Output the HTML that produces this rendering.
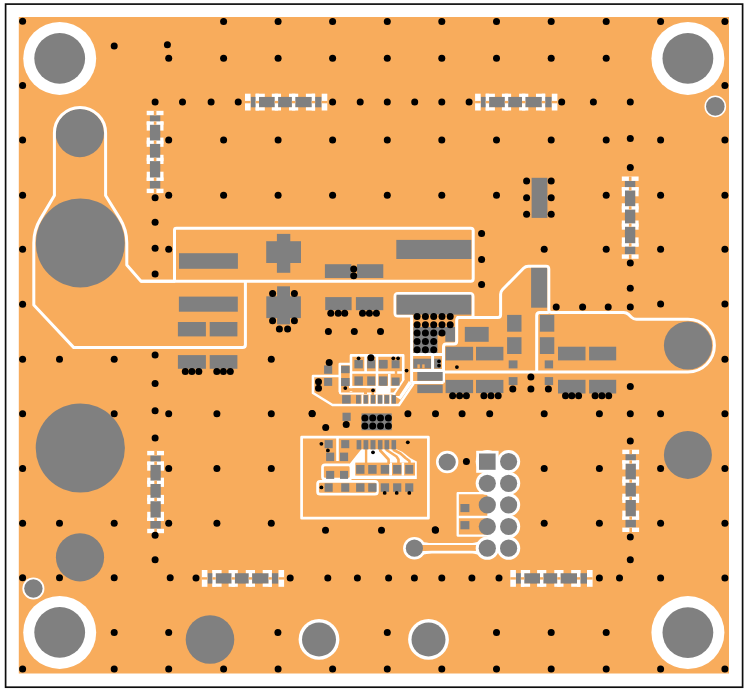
<!DOCTYPE html>
<html><head><meta charset="utf-8"><title>PCB</title>
<style>html,body{margin:0;padding:0;background:#fff;width:751px;height:693px;overflow:hidden;font-family:"Liberation Sans",sans-serif;}svg{display:block}</style>
</head><body>
<svg width="751" height="693" viewBox="0 0 751 693">
<defs><filter id="bl" x="0" y="0" width="751" height="693" filterUnits="userSpaceOnUse"><feGaussianBlur stdDeviation="0.35"/></filter></defs>
<g filter="url(#bl)">
<rect x="0" y="0" width="751" height="693" fill="#fff"/>
<rect x="18.8" y="17.0" width="710.2" height="656.5" fill="#F8AC5C"/>
<circle cx="59.7" cy="58.4" r="36.5" fill="#FFFFFF"/>
<circle cx="59.7" cy="58.4" r="25.4" fill="#808080"/>
<circle cx="687.9" cy="58.4" r="36.5" fill="#FFFFFF"/>
<circle cx="687.9" cy="58.4" r="25.4" fill="#808080"/>
<circle cx="59.7" cy="632.4" r="36.5" fill="#FFFFFF"/>
<circle cx="59.7" cy="632.4" r="25.4" fill="#808080"/>
<circle cx="687.9" cy="632.6" r="36.5" fill="#FFFFFF"/>
<circle cx="687.9" cy="632.6" r="25.4" fill="#808080"/>
<circle cx="715.3" cy="106.4" r="10.8" fill="#FFFFFF"/>
<circle cx="715.3" cy="106.4" r="9.3" fill="#808080"/>
<circle cx="33.4" cy="588.5" r="11.0" fill="#FFFFFF"/>
<circle cx="33.4" cy="588.5" r="9.2" fill="#808080"/>
<circle cx="80.3" cy="242.9" r="44.5" fill="#808080"/>
<circle cx="80.3" cy="448.0" r="44.6" fill="#808080"/>
<circle cx="80.0" cy="557.3" r="24.1" fill="#808080"/>
<circle cx="79.8" cy="133.0" r="24.2" fill="#808080"/>
<circle cx="210.0" cy="639.5" r="24.3" fill="#808080"/>
<circle cx="687.9" cy="454.9" r="24.0" fill="#808080"/>
<circle cx="319.0" cy="639.4" r="20.4" fill="#FFFFFF"/>
<circle cx="319.0" cy="639.4" r="17.0" fill="#808080"/>
<circle cx="428.5" cy="639.4" r="20.4" fill="#FFFFFF"/>
<circle cx="428.5" cy="639.4" r="17.0" fill="#808080"/>
<path d="M 175.2 281.3 L 141 281.3 L 126.8 265 L 126.8 242.9 A 46.5 46.5 0 0 0 119.8 218.37 L 105.6 195.5 L 105.6 133 A 25.6 25.6 0 0 0 54.4 133 L 54.4 195.5 L 40.34 219.12 A 46.5 46.5 0 0 0 33.8 242.9 L 33.8 305 L 73.8 347.6 L 242.5 347.6 Q 245.4 347.6 245.4 344.7 L 245.4 281.3" fill="none" stroke="#FFFFFF" stroke-width="3.0" stroke-linejoin="round"/>
<path d="M 176.4 228.2 L 470.8 228.2 Q 473.2 228.2 473.2 230.6 L 473.2 278.8 Q 473.2 281.2 470.8 281.2 L 141 281.2 M 174.5 281.2 L 174.5 230.1 Q 174.5 228.2 176.4 228.2" fill="none" stroke="#FFFFFF" stroke-width="3.0" stroke-linejoin="round"/>
<rect x="250.6" y="96.9" width="71.1" height="10.4" fill="#808080"/>
<rect x="245.0" y="93.7" width="5.6" height="16.8" fill="#FFFFFF"/>
<rect x="245.0" y="100.9" width="5.6" height="2.4" fill="#F8AC5C"/>
<rect x="255.6" y="93.7" width="9.2" height="3.2" fill="#FFFFFF"/>
<rect x="255.6" y="107.3" width="9.2" height="3.2" fill="#FFFFFF"/>
<rect x="255.6" y="93.7" width="3.4" height="16.8" fill="#FFFFFF"/>
<rect x="255.6" y="100.9" width="3.4" height="2.4" fill="#F8AC5C"/>
<rect x="271.8" y="93.7" width="9.2" height="3.2" fill="#FFFFFF"/>
<rect x="271.8" y="107.3" width="9.2" height="3.2" fill="#FFFFFF"/>
<rect x="274.7" y="93.7" width="3.4" height="16.8" fill="#FFFFFF"/>
<rect x="274.7" y="100.9" width="3.4" height="2.4" fill="#F8AC5C"/>
<rect x="289.0" y="93.7" width="9.2" height="3.2" fill="#FFFFFF"/>
<rect x="289.0" y="107.3" width="9.2" height="3.2" fill="#FFFFFF"/>
<rect x="291.9" y="93.7" width="3.4" height="16.8" fill="#FFFFFF"/>
<rect x="291.9" y="100.9" width="3.4" height="2.4" fill="#F8AC5C"/>
<rect x="305.9" y="93.7" width="9.2" height="3.2" fill="#FFFFFF"/>
<rect x="305.9" y="107.3" width="9.2" height="3.2" fill="#FFFFFF"/>
<rect x="311.7" y="93.7" width="3.4" height="16.8" fill="#FFFFFF"/>
<rect x="311.7" y="100.9" width="3.4" height="2.4" fill="#F8AC5C"/>
<rect x="321.7" y="93.7" width="5.6" height="16.8" fill="#FFFFFF"/>
<rect x="321.7" y="100.9" width="5.6" height="2.4" fill="#F8AC5C"/>
<rect x="480.7" y="96.9" width="71.1" height="10.4" fill="#808080"/>
<rect x="475.1" y="93.7" width="5.6" height="16.8" fill="#FFFFFF"/>
<rect x="475.1" y="100.9" width="5.6" height="2.4" fill="#F8AC5C"/>
<rect x="485.7" y="93.7" width="9.2" height="3.2" fill="#FFFFFF"/>
<rect x="485.7" y="107.3" width="9.2" height="3.2" fill="#FFFFFF"/>
<rect x="485.7" y="93.7" width="3.4" height="16.8" fill="#FFFFFF"/>
<rect x="485.7" y="100.9" width="3.4" height="2.4" fill="#F8AC5C"/>
<rect x="501.9" y="93.7" width="9.2" height="3.2" fill="#FFFFFF"/>
<rect x="501.9" y="107.3" width="9.2" height="3.2" fill="#FFFFFF"/>
<rect x="504.8" y="93.7" width="3.4" height="16.8" fill="#FFFFFF"/>
<rect x="504.8" y="100.9" width="3.4" height="2.4" fill="#F8AC5C"/>
<rect x="519.1" y="93.7" width="9.2" height="3.2" fill="#FFFFFF"/>
<rect x="519.1" y="107.3" width="9.2" height="3.2" fill="#FFFFFF"/>
<rect x="522.0" y="93.7" width="3.4" height="16.8" fill="#FFFFFF"/>
<rect x="522.0" y="100.9" width="3.4" height="2.4" fill="#F8AC5C"/>
<rect x="536.0" y="93.7" width="9.2" height="3.2" fill="#FFFFFF"/>
<rect x="536.0" y="107.3" width="9.2" height="3.2" fill="#FFFFFF"/>
<rect x="541.8" y="93.7" width="3.4" height="16.8" fill="#FFFFFF"/>
<rect x="541.8" y="100.9" width="3.4" height="2.4" fill="#F8AC5C"/>
<rect x="551.8" y="93.7" width="5.6" height="16.8" fill="#FFFFFF"/>
<rect x="551.8" y="100.9" width="5.6" height="2.4" fill="#F8AC5C"/>
<rect x="207.4" y="573.2" width="71.1" height="10.4" fill="#808080"/>
<rect x="201.8" y="570.0" width="5.6" height="16.8" fill="#FFFFFF"/>
<rect x="201.8" y="577.2" width="5.6" height="2.4" fill="#F8AC5C"/>
<rect x="212.4" y="570.0" width="9.2" height="3.2" fill="#FFFFFF"/>
<rect x="212.4" y="583.6" width="9.2" height="3.2" fill="#FFFFFF"/>
<rect x="212.4" y="570.0" width="3.4" height="16.8" fill="#FFFFFF"/>
<rect x="212.4" y="577.2" width="3.4" height="2.4" fill="#F8AC5C"/>
<rect x="228.6" y="570.0" width="9.2" height="3.2" fill="#FFFFFF"/>
<rect x="228.6" y="583.6" width="9.2" height="3.2" fill="#FFFFFF"/>
<rect x="231.5" y="570.0" width="3.4" height="16.8" fill="#FFFFFF"/>
<rect x="231.5" y="577.2" width="3.4" height="2.4" fill="#F8AC5C"/>
<rect x="245.8" y="570.0" width="9.2" height="3.2" fill="#FFFFFF"/>
<rect x="245.8" y="583.6" width="9.2" height="3.2" fill="#FFFFFF"/>
<rect x="248.7" y="570.0" width="3.4" height="16.8" fill="#FFFFFF"/>
<rect x="248.7" y="577.2" width="3.4" height="2.4" fill="#F8AC5C"/>
<rect x="262.7" y="570.0" width="9.2" height="3.2" fill="#FFFFFF"/>
<rect x="262.7" y="583.6" width="9.2" height="3.2" fill="#FFFFFF"/>
<rect x="268.5" y="570.0" width="3.4" height="16.8" fill="#FFFFFF"/>
<rect x="268.5" y="577.2" width="3.4" height="2.4" fill="#F8AC5C"/>
<rect x="278.5" y="570.0" width="5.6" height="16.8" fill="#FFFFFF"/>
<rect x="278.5" y="577.2" width="5.6" height="2.4" fill="#F8AC5C"/>
<rect x="515.9" y="573.2" width="71.1" height="10.4" fill="#808080"/>
<rect x="510.3" y="570.0" width="5.6" height="16.8" fill="#FFFFFF"/>
<rect x="510.3" y="577.2" width="5.6" height="2.4" fill="#F8AC5C"/>
<rect x="520.9" y="570.0" width="9.2" height="3.2" fill="#FFFFFF"/>
<rect x="520.9" y="583.6" width="9.2" height="3.2" fill="#FFFFFF"/>
<rect x="520.9" y="570.0" width="3.4" height="16.8" fill="#FFFFFF"/>
<rect x="520.9" y="577.2" width="3.4" height="2.4" fill="#F8AC5C"/>
<rect x="537.1" y="570.0" width="9.2" height="3.2" fill="#FFFFFF"/>
<rect x="537.1" y="583.6" width="9.2" height="3.2" fill="#FFFFFF"/>
<rect x="540.0" y="570.0" width="3.4" height="16.8" fill="#FFFFFF"/>
<rect x="540.0" y="577.2" width="3.4" height="2.4" fill="#F8AC5C"/>
<rect x="554.3" y="570.0" width="9.2" height="3.2" fill="#FFFFFF"/>
<rect x="554.3" y="583.6" width="9.2" height="3.2" fill="#FFFFFF"/>
<rect x="557.2" y="570.0" width="3.4" height="16.8" fill="#FFFFFF"/>
<rect x="557.2" y="577.2" width="3.4" height="2.4" fill="#F8AC5C"/>
<rect x="571.2" y="570.0" width="9.2" height="3.2" fill="#FFFFFF"/>
<rect x="571.2" y="583.6" width="9.2" height="3.2" fill="#FFFFFF"/>
<rect x="577.0" y="570.0" width="3.4" height="16.8" fill="#FFFFFF"/>
<rect x="577.0" y="577.2" width="3.4" height="2.4" fill="#F8AC5C"/>
<rect x="587.0" y="570.0" width="5.6" height="16.8" fill="#FFFFFF"/>
<rect x="587.0" y="577.2" width="5.6" height="2.4" fill="#F8AC5C"/>
<rect x="149.9" y="115.2" width="10.4" height="73.5" fill="#808080"/>
<rect x="146.7" y="110.8" width="16.8" height="4.4" fill="#FFFFFF"/>
<rect x="153.8" y="110.8" width="2.6" height="4.4" fill="#F8AC5C"/>
<rect x="146.7" y="121.4" width="3.2" height="9.2" fill="#FFFFFF"/>
<rect x="160.3" y="121.4" width="3.2" height="9.2" fill="#FFFFFF"/>
<rect x="146.7" y="121.4" width="16.8" height="3.4" fill="#FFFFFF"/>
<rect x="153.8" y="121.4" width="2.6" height="3.4" fill="#F8AC5C"/>
<rect x="146.7" y="137.6" width="3.2" height="9.2" fill="#FFFFFF"/>
<rect x="160.3" y="137.6" width="3.2" height="9.2" fill="#FFFFFF"/>
<rect x="146.7" y="140.5" width="16.8" height="3.4" fill="#FFFFFF"/>
<rect x="153.8" y="140.5" width="2.6" height="3.4" fill="#F8AC5C"/>
<rect x="146.7" y="154.8" width="3.2" height="9.2" fill="#FFFFFF"/>
<rect x="160.3" y="154.8" width="3.2" height="9.2" fill="#FFFFFF"/>
<rect x="146.7" y="157.7" width="16.8" height="3.4" fill="#FFFFFF"/>
<rect x="153.8" y="157.7" width="2.6" height="3.4" fill="#F8AC5C"/>
<rect x="146.7" y="171.7" width="3.2" height="9.2" fill="#FFFFFF"/>
<rect x="160.3" y="171.7" width="3.2" height="9.2" fill="#FFFFFF"/>
<rect x="146.7" y="177.5" width="16.8" height="3.4" fill="#FFFFFF"/>
<rect x="153.8" y="177.5" width="2.6" height="3.4" fill="#F8AC5C"/>
<rect x="146.7" y="188.7" width="16.8" height="4.4" fill="#FFFFFF"/>
<rect x="153.8" y="188.7" width="2.6" height="4.4" fill="#F8AC5C"/>
<rect x="624.9" y="180.9" width="10.4" height="73.5" fill="#808080"/>
<rect x="621.8" y="176.5" width="16.8" height="4.4" fill="#FFFFFF"/>
<rect x="628.9" y="176.5" width="2.6" height="4.4" fill="#F8AC5C"/>
<rect x="621.8" y="187.1" width="3.2" height="9.2" fill="#FFFFFF"/>
<rect x="635.4" y="187.1" width="3.2" height="9.2" fill="#FFFFFF"/>
<rect x="621.8" y="187.1" width="16.8" height="3.4" fill="#FFFFFF"/>
<rect x="628.9" y="187.1" width="2.6" height="3.4" fill="#F8AC5C"/>
<rect x="621.8" y="203.3" width="3.2" height="9.2" fill="#FFFFFF"/>
<rect x="635.4" y="203.3" width="3.2" height="9.2" fill="#FFFFFF"/>
<rect x="621.8" y="206.2" width="16.8" height="3.4" fill="#FFFFFF"/>
<rect x="628.9" y="206.2" width="2.6" height="3.4" fill="#F8AC5C"/>
<rect x="621.8" y="220.5" width="3.2" height="9.2" fill="#FFFFFF"/>
<rect x="635.4" y="220.5" width="3.2" height="9.2" fill="#FFFFFF"/>
<rect x="621.8" y="223.4" width="16.8" height="3.4" fill="#FFFFFF"/>
<rect x="628.9" y="223.4" width="2.6" height="3.4" fill="#F8AC5C"/>
<rect x="621.8" y="237.4" width="3.2" height="9.2" fill="#FFFFFF"/>
<rect x="635.4" y="237.4" width="3.2" height="9.2" fill="#FFFFFF"/>
<rect x="621.8" y="243.2" width="16.8" height="3.4" fill="#FFFFFF"/>
<rect x="628.9" y="243.2" width="2.6" height="3.4" fill="#F8AC5C"/>
<rect x="621.8" y="254.4" width="16.8" height="4.4" fill="#FFFFFF"/>
<rect x="628.9" y="254.4" width="2.6" height="4.4" fill="#F8AC5C"/>
<rect x="150.4" y="455.3" width="10.4" height="73.5" fill="#808080"/>
<rect x="147.2" y="450.9" width="16.8" height="4.4" fill="#FFFFFF"/>
<rect x="154.3" y="450.9" width="2.6" height="4.4" fill="#F8AC5C"/>
<rect x="147.2" y="461.5" width="3.2" height="9.2" fill="#FFFFFF"/>
<rect x="160.8" y="461.5" width="3.2" height="9.2" fill="#FFFFFF"/>
<rect x="147.2" y="461.5" width="16.8" height="3.4" fill="#FFFFFF"/>
<rect x="154.3" y="461.5" width="2.6" height="3.4" fill="#F8AC5C"/>
<rect x="147.2" y="477.7" width="3.2" height="9.2" fill="#FFFFFF"/>
<rect x="160.8" y="477.7" width="3.2" height="9.2" fill="#FFFFFF"/>
<rect x="147.2" y="480.6" width="16.8" height="3.4" fill="#FFFFFF"/>
<rect x="154.3" y="480.6" width="2.6" height="3.4" fill="#F8AC5C"/>
<rect x="147.2" y="494.9" width="3.2" height="9.2" fill="#FFFFFF"/>
<rect x="160.8" y="494.9" width="3.2" height="9.2" fill="#FFFFFF"/>
<rect x="147.2" y="497.8" width="16.8" height="3.4" fill="#FFFFFF"/>
<rect x="154.3" y="497.8" width="2.6" height="3.4" fill="#F8AC5C"/>
<rect x="147.2" y="511.8" width="3.2" height="9.2" fill="#FFFFFF"/>
<rect x="160.8" y="511.8" width="3.2" height="9.2" fill="#FFFFFF"/>
<rect x="147.2" y="517.6" width="16.8" height="3.4" fill="#FFFFFF"/>
<rect x="154.3" y="517.6" width="2.6" height="3.4" fill="#F8AC5C"/>
<rect x="147.2" y="528.8" width="16.8" height="4.4" fill="#FFFFFF"/>
<rect x="154.3" y="528.8" width="2.6" height="4.4" fill="#F8AC5C"/>
<rect x="625.5" y="454.1" width="10.4" height="73.5" fill="#808080"/>
<rect x="622.3" y="449.7" width="16.8" height="4.4" fill="#FFFFFF"/>
<rect x="629.4" y="449.7" width="2.6" height="4.4" fill="#F8AC5C"/>
<rect x="622.3" y="460.3" width="3.2" height="9.2" fill="#FFFFFF"/>
<rect x="635.9" y="460.3" width="3.2" height="9.2" fill="#FFFFFF"/>
<rect x="622.3" y="460.3" width="16.8" height="3.4" fill="#FFFFFF"/>
<rect x="629.4" y="460.3" width="2.6" height="3.4" fill="#F8AC5C"/>
<rect x="622.3" y="476.5" width="3.2" height="9.2" fill="#FFFFFF"/>
<rect x="635.9" y="476.5" width="3.2" height="9.2" fill="#FFFFFF"/>
<rect x="622.3" y="479.4" width="16.8" height="3.4" fill="#FFFFFF"/>
<rect x="629.4" y="479.4" width="2.6" height="3.4" fill="#F8AC5C"/>
<rect x="622.3" y="493.7" width="3.2" height="9.2" fill="#FFFFFF"/>
<rect x="635.9" y="493.7" width="3.2" height="9.2" fill="#FFFFFF"/>
<rect x="622.3" y="496.6" width="16.8" height="3.4" fill="#FFFFFF"/>
<rect x="629.4" y="496.6" width="2.6" height="3.4" fill="#F8AC5C"/>
<rect x="622.3" y="510.6" width="3.2" height="9.2" fill="#FFFFFF"/>
<rect x="635.9" y="510.6" width="3.2" height="9.2" fill="#FFFFFF"/>
<rect x="622.3" y="516.4" width="16.8" height="3.4" fill="#FFFFFF"/>
<rect x="629.4" y="516.4" width="2.6" height="3.4" fill="#F8AC5C"/>
<rect x="622.3" y="527.6" width="16.8" height="4.4" fill="#FFFFFF"/>
<rect x="629.4" y="527.6" width="2.6" height="4.4" fill="#F8AC5C"/>
<rect x="179.0" y="253.2" width="58.9" height="15.6" fill="#808080"/>
<rect x="276.9" y="233.9" width="13.4" height="38.9" fill="#808080"/>
<rect x="266.2" y="241.2" width="34.8" height="21.8" fill="#808080"/>
<rect x="324.9" y="264.2" width="26.5" height="13.8" fill="#808080"/>
<rect x="357.0" y="264.2" width="26.3" height="13.8" fill="#808080"/>
<rect x="396.3" y="239.9" width="75.0" height="19.1" fill="#808080"/>
<rect x="178.9" y="296.6" width="58.9" height="15.1" fill="#808080"/>
<rect x="177.9" y="322.0" width="28.0" height="14.4" fill="#808080"/>
<rect x="209.7" y="322.0" width="27.7" height="14.4" fill="#808080"/>
<rect x="177.9" y="355.1" width="28.0" height="13.7" fill="#808080"/>
<rect x="209.7" y="355.1" width="27.7" height="13.7" fill="#808080"/>
<rect x="277.1" y="286.3" width="12.9" height="38.1" fill="#808080"/>
<rect x="266.3" y="296.3" width="34.6" height="21.8" fill="#808080"/>
<rect x="325.2" y="297.1" width="26.4" height="13.1" fill="#808080"/>
<rect x="355.9" y="297.1" width="27.4" height="13.1" fill="#808080"/>
<path d="M 443.50 372.00 L 443.50 346.80 Q 443.50 344.00 446.30 344.00 L 453.90 344.00 Q 456.70 344.00 456.70 341.20 L 456.70 320.30 Q 456.70 317.50 459.50 317.50 L 497.80 317.50 Q 500.60 317.50 500.60 314.70 L 500.60 294.30 Q 500.60 291.50 502.57 289.51 L 523.53 268.29 Q 525.50 266.30 528.30 266.30 L 546.00 266.30 Q 548.80 266.30 548.80 269.10 L 548.80 309.70 Q 548.80 312.50 551.60 312.50 L 623.70 312.50 Q 626.50 312.50 628.52 314.44 L 631.48 317.26 Q 633.50 319.20 636.30 319.20 L 688.00 319.20" fill="none" stroke="#FFFFFF" stroke-width="3.0" stroke-linejoin="round"/>
<path d="M 688 319.2 A 26.4 26.4 0 0 1 688 372 H 443.5" fill="none" stroke="#FFFFFF" stroke-width="3.0" stroke-linejoin="round"/>
<path d="M 548.8 312.5 H 539.7 Q 536.7 312.5 536.7 315.5 V 372" fill="none" stroke="#FFFFFF" stroke-width="3.0" stroke-linejoin="round"/>
<path d="M 411.6 382.7 V 316.1 H 398 Q 395 316.1 395 313 V 296.4 Q 395 293.4 398 293.4 H 470 Q 473 293.4 473 296.4 V 317.5 H 456.7" fill="none" stroke="#FFFFFF" stroke-width="3.0" stroke-linejoin="round"/>
<path d="M 411.6 354.6 H 443.5" fill="none" stroke="#FFFFFF" stroke-width="3.0" stroke-linejoin="round"/>
<path d="M 432.6 354.6 V 370.4" fill="none" stroke="#FFFFFF" stroke-width="3.0" stroke-linejoin="round"/>
<path d="M 411.6 370.4 H 443.5" fill="none" stroke="#FFFFFF" stroke-width="3.0" stroke-linejoin="round"/>
<path d="M 411.6 382.6 H 443.5" fill="none" stroke="#FFFFFF" stroke-width="3.0" stroke-linejoin="round"/>
<path d="M 443.5 372 V 382.6" fill="none" stroke="#FFFFFF" stroke-width="3.0" stroke-linejoin="round"/>
<path d="M 339.8 376 H 313 V 393 L 332.5 405 H 399 L 413.5 383.5" fill="none" stroke="#FFFFFF" stroke-width="2.6" stroke-linejoin="round"/>
<path d="M 339.8 392 V 364 H 351" fill="none" stroke="#FFFFFF" stroke-width="2.6" stroke-linejoin="round"/>
<path d="M 351 392 V 355.4 H 403.2 V 383" fill="none" stroke="#FFFFFF" stroke-width="2.6" stroke-linejoin="round"/>
<path d="M 365.6 355.4 V 372.5 M 351 372.5 H 403.2 M 377 355.4 V 392.7 M 389.3 374 V 392.7" fill="none" stroke="#FFFFFF" stroke-width="2.6" stroke-linejoin="round"/>
<path d="M 408 380.5 L 396.5 397" stroke="#fff" stroke-width="10" fill="none"/>
<rect x="349.0" y="385.9" width="52.0" height="2.4" fill="#FFFFFF"/>
<rect x="375.9" y="385.9" width="13.6" height="7.1" fill="#FFFFFF"/>
<path d="M 339.8 392 Q 339.8 393.6 342 393.6 H 399" fill="none" stroke="#FFFFFF" stroke-width="2.0" stroke-linejoin="round"/>
<rect x="361.6" y="394.4" width="1.8" height="10.1" fill="#FFFFFF"/>
<rect x="368.6" y="394.4" width="1.8" height="10.1" fill="#FFFFFF"/>
<rect x="375.9" y="394.4" width="1.8" height="10.1" fill="#FFFFFF"/>
<rect x="382.2" y="394.4" width="1.8" height="10.1" fill="#FFFFFF"/>
<rect x="389.4" y="394.4" width="1.8" height="10.1" fill="#FFFFFF"/>
<path d="M 345 389.8 H 365.5 V 394" fill="none" stroke="#F8AC5C" stroke-width="3.0" stroke-linejoin="round" stroke-linecap="butt"/>
<path d="M 372.8 390 V 395" fill="none" stroke="#F8AC5C" stroke-width="2.5" stroke-linejoin="round" stroke-linecap="butt"/>
<path d="M 396 368 V 378" fill="none" stroke="#F8AC5C" stroke-width="2.4" stroke-linejoin="round" stroke-linecap="butt"/>
<path d="M 406.7 378 L 406.7 380.5 L 397.5 394.5 V 396" fill="none" stroke="#F8AC5C" stroke-width="4.2" stroke-linejoin="round" stroke-linecap="butt"/>
<rect x="531.1" y="267.8" width="16.0" height="39.9" fill="#808080"/>
<rect x="507.1" y="314.9" width="14.4" height="16.8" fill="#808080"/>
<rect x="507.1" y="337.2" width="14.4" height="16.8" fill="#808080"/>
<rect x="539.9" y="314.9" width="14.4" height="16.8" fill="#808080"/>
<rect x="539.9" y="337.2" width="14.4" height="16.8" fill="#808080"/>
<rect x="508.7" y="360.4" width="8.8" height="8.0" fill="#808080"/>
<rect x="544.7" y="360.4" width="8.4" height="8.0" fill="#808080"/>
<rect x="508.7" y="377.1" width="8.8" height="8.0" fill="#808080"/>
<rect x="544.7" y="377.1" width="8.4" height="8.0" fill="#808080"/>
<rect x="464.8" y="326.9" width="23.9" height="14.9" fill="#808080"/>
<rect x="445.6" y="346.8" width="27.5" height="13.6" fill="#808080"/>
<rect x="476.0" y="346.8" width="27.4" height="13.6" fill="#808080"/>
<rect x="445.6" y="379.9" width="27.5" height="13.2" fill="#808080"/>
<rect x="476.0" y="379.9" width="27.4" height="13.2" fill="#808080"/>
<rect x="558.0" y="346.7" width="27.5" height="13.7" fill="#808080"/>
<rect x="589.1" y="346.7" width="27.1" height="13.7" fill="#808080"/>
<rect x="558.0" y="379.8" width="27.5" height="13.7" fill="#808080"/>
<rect x="589.1" y="379.8" width="27.1" height="13.7" fill="#808080"/>
<circle cx="688.0" cy="345.5" r="24.1" fill="#808080"/>
<rect x="396.5" y="294.7" width="74.8" height="19.9" fill="#808080"/>
<polygon points="413.4,326.9 455.0,326.9 455.0,341.8 445.3,341.8 445.3,335.3 437.5,335.3 437.5,352.9 413.4,352.9" fill="#808080"/>
<rect x="413.4" y="358.7" width="17.6" height="9.7" fill="#808080"/>
<rect x="417.4" y="364.4" width="2.4" height="4.0" fill="#F8AC5C"/>
<rect x="422.2" y="364.4" width="2.4" height="4.0" fill="#F8AC5C"/>
<rect x="434.2" y="358.7" width="6.5" height="9.7" fill="#808080"/>
<rect x="417.3" y="372.0" width="25.4" height="8.8" fill="#808080"/>
<rect x="417.3" y="384.7" width="25.4" height="8.4" fill="#808080"/>
<rect x="380.0" y="360.2" width="7.5" height="8.1" fill="#808080"/>
<rect x="391.6" y="360.2" width="8.0" height="8.1" fill="#808080"/>
<rect x="380.0" y="377.5" width="6.9" height="8.1" fill="#808080"/>
<rect x="391.6" y="377.5" width="8.0" height="8.1" fill="#808080"/>
<rect x="354.4" y="359.9" width="8.5" height="8.5" fill="#808080"/>
<rect x="354.4" y="376.4" width="8.5" height="9.1" fill="#808080"/>
<rect x="367.2" y="359.9" width="8.0" height="8.5" fill="#808080"/>
<rect x="367.2" y="376.4" width="8.0" height="9.1" fill="#808080"/>
<rect x="378.9" y="359.9" width="8.5" height="8.5" fill="#808080"/>
<rect x="378.9" y="376.4" width="8.5" height="9.1" fill="#808080"/>
<rect x="341.1" y="365.8" width="8.5" height="7.4" fill="#808080"/>
<rect x="341.1" y="378.0" width="8.5" height="8.0" fill="#808080"/>
<rect x="324.1" y="365.4" width="8.1" height="8.4" fill="#808080"/>
<rect x="324.1" y="378.0" width="8.1" height="7.9" fill="#808080"/>
<rect x="342.1" y="395.1" width="8.6" height="8.5" fill="#808080"/>
<rect x="356.0" y="395.1" width="4.8" height="8.5" fill="#808080"/>
<rect x="363.6" y="395.1" width="4.3" height="8.5" fill="#808080"/>
<rect x="370.9" y="395.1" width="4.3" height="8.5" fill="#808080"/>
<rect x="377.8" y="395.1" width="4.6" height="8.5" fill="#808080"/>
<rect x="384.5" y="395.1" width="4.7" height="8.5" fill="#808080"/>
<rect x="391.7" y="395.1" width="4.2" height="8.5" fill="#808080"/>
<rect x="361.5" y="413.4" width="30.2" height="16.8" fill="#808080"/>
<rect x="342.5" y="412.7" width="8.2" height="8.2" fill="#808080"/>
<rect x="531.6" y="177.8" width="15.8" height="40.1" fill="#808080"/>
<path d="M 301.6 437.2 H 428.4 V 518.2 H 301.6 Z" fill="none" stroke="#FFFFFF" stroke-width="2.7" stroke-linejoin="round"/>
<polygon points="349.5,464.0 359.5,451.5 361.5,449.3 396.5,449.3 402.2,451.8 410.6,458.2 416.8,461.5 416.8,479.0 351.0,479.0" fill="#FFFFFF"/>
<rect x="355.3" y="462.6" width="59.7" height="13.0" fill="#F8AC5C"/>
<rect x="389.2" y="462.6" width="2.8" height="13.0" fill="#FFFFFF"/>
<rect x="401.6" y="462.6" width="2.6" height="13.0" fill="#FFFFFF"/>
<path d="M 366.1 448 V 464" fill="none" stroke="#F8AC5C" stroke-width="2.4" stroke-linejoin="round"/>
<path d="M 380.2 448 L 380.2 450.5 L 388.6 459.5 V 464" fill="none" stroke="#F8AC5C" stroke-width="2.6" stroke-linejoin="round"/>
<path d="M 386.6 448 L 386.6 450 L 396.5 456.5 L 398.5 459.5 V 464" fill="none" stroke="#F8AC5C" stroke-width="2.6" stroke-linejoin="round"/>
<path d="M 393.8 448 L 393.8 450 L 400.5 453.5 L 405.5 458 L 409.5 461 V 464" fill="none" stroke="#F8AC5C" stroke-width="2.6" stroke-linejoin="round"/>
<path d="M 337.5 438 V 461" fill="none" stroke="#FFFFFF" stroke-width="2.6" stroke-linejoin="round"/>
<rect x="322.5" y="464.8" width="28.5" height="14.4" rx="2.5" fill="none" stroke="#fff" stroke-width="2.7"/>
<rect x="317.6" y="481.3" width="59.8" height="12.9" rx="2.5" fill="none" stroke="#fff" stroke-width="2.7"/>
<rect x="332.7" y="486.0" width="8.5" height="2.6" fill="#F8AC5C"/>
<rect x="324.6" y="440.1" width="8.1" height="8.1" fill="#808080"/>
<rect x="341.2" y="440.1" width="8.1" height="8.1" fill="#808080"/>
<rect x="356.6" y="440.1" width="4.7" height="9.3" fill="#808080"/>
<rect x="363.5" y="440.1" width="4.8" height="9.3" fill="#808080"/>
<rect x="370.5" y="440.1" width="5.0" height="9.3" fill="#808080"/>
<rect x="377.9" y="440.1" width="4.6" height="9.3" fill="#808080"/>
<rect x="384.5" y="440.1" width="4.7" height="9.3" fill="#808080"/>
<rect x="391.5" y="440.1" width="4.6" height="9.3" fill="#808080"/>
<rect x="326.1" y="452.6" width="8.1" height="8.5" fill="#808080"/>
<rect x="340.0" y="452.6" width="8.1" height="8.5" fill="#808080"/>
<rect x="356.1" y="465.0" width="8.4" height="8.8" fill="#808080"/>
<rect x="368.2" y="465.0" width="8.4" height="8.8" fill="#808080"/>
<rect x="380.7" y="465.0" width="8.4" height="8.8" fill="#808080"/>
<rect x="393.1" y="465.0" width="8.2" height="8.8" fill="#808080"/>
<rect x="405.2" y="465.0" width="8.1" height="8.8" fill="#808080"/>
<rect x="326.1" y="470.9" width="8.1" height="8.0" fill="#808080"/>
<rect x="340.0" y="470.9" width="8.1" height="8.0" fill="#808080"/>
<rect x="324.6" y="483.3" width="8.1" height="8.5" fill="#808080"/>
<rect x="341.2" y="483.3" width="8.1" height="8.5" fill="#808080"/>
<rect x="356.1" y="483.3" width="8.4" height="8.5" fill="#808080"/>
<rect x="368.2" y="483.3" width="8.4" height="8.5" fill="#808080"/>
<rect x="380.7" y="483.3" width="8.4" height="8.5" fill="#808080"/>
<rect x="393.1" y="483.3" width="8.2" height="8.5" fill="#808080"/>
<rect x="405.2" y="483.3" width="8.1" height="8.5" fill="#808080"/>
<path d="M 457.7 493.2 H 495.6 V 535.6 H 457.7 Z" fill="none" stroke="#FFFFFF" stroke-width="2.3" stroke-linejoin="round"/>
<path d="M 457.7 517 H 495.6" fill="none" stroke="#FFFFFF" stroke-width="2.3" stroke-linejoin="round"/>
<rect x="460.4" y="504.0" width="9.0" height="8.1" fill="#808080"/>
<rect x="460.4" y="521.1" width="9.0" height="8.2" fill="#808080"/>
<circle cx="414.4" cy="548.2" r="11.3" fill="#FFFFFF"/>
<path d="M 414 542.5 C 424 541 426 543 432 543 H 470 C 476 543 480 541 487 541 V 555.5 C 480 555.5 476 553.5 470 553.5 H 432 C 426 553.5 424 555.5 414 554 Z" fill="#fff"/>
<path d="M 414 548.2 C 422 548.2 426 547.8 432 547.8 H 470 C 476 547.8 480 548.2 487 548.2" fill="none" stroke="#F8AC5C" stroke-width="5.8" stroke-linejoin="round"/>
<circle cx="414.4" cy="548.2" r="8.6" fill="#808080"/>
<circle cx="487.3" cy="461.6" r="11.6" fill="#FFFFFF"/>
<circle cx="508.6" cy="461.6" r="11.6" fill="#FFFFFF"/>
<circle cx="487.3" cy="483.3" r="11.6" fill="#FFFFFF"/>
<circle cx="508.6" cy="483.3" r="11.6" fill="#FFFFFF"/>
<circle cx="508.6" cy="504.9" r="11.6" fill="#FFFFFF"/>
<circle cx="508.6" cy="526.5" r="11.6" fill="#FFFFFF"/>
<circle cx="487.3" cy="548.2" r="11.6" fill="#FFFFFF"/>
<circle cx="508.6" cy="548.2" r="11.6" fill="#FFFFFF"/>
<rect x="487.3" y="461.6" width="21.3" height="86.6" fill="#FFFFFF"/>
<rect x="476.2" y="450.8" width="22.4" height="22.0" fill="#FFFFFF"/>
<circle cx="508.6" cy="461.6" r="8.6" fill="#808080"/>
<circle cx="487.3" cy="483.3" r="8.6" fill="#808080"/>
<circle cx="508.6" cy="483.3" r="8.6" fill="#808080"/>
<circle cx="487.3" cy="504.9" r="8.6" fill="#808080"/>
<circle cx="508.6" cy="504.9" r="8.6" fill="#808080"/>
<circle cx="487.3" cy="526.5" r="8.6" fill="#808080"/>
<circle cx="508.6" cy="526.5" r="8.6" fill="#808080"/>
<circle cx="487.3" cy="548.2" r="8.6" fill="#808080"/>
<circle cx="508.6" cy="548.2" r="8.6" fill="#808080"/>
<rect x="479.0" y="453.5" width="16.6" height="16.3" fill="#808080"/>
<circle cx="447.2" cy="462.0" r="11.2" fill="#FFFFFF"/>
<circle cx="447.2" cy="462.0" r="8.6" fill="#808080"/>
<circle cx="417.1" cy="316.6" r="3.5" fill="#000"/>
<circle cx="425.4" cy="316.6" r="3.5" fill="#000"/>
<circle cx="433.7" cy="316.6" r="3.5" fill="#000"/>
<circle cx="442.0" cy="316.6" r="3.5" fill="#000"/>
<circle cx="450.2" cy="316.6" r="3.5" fill="#000"/>
<circle cx="417.1" cy="324.8" r="3.5" fill="#000"/>
<circle cx="425.4" cy="324.8" r="3.5" fill="#000"/>
<circle cx="433.7" cy="324.8" r="3.5" fill="#000"/>
<circle cx="442.0" cy="324.8" r="3.5" fill="#000"/>
<circle cx="450.2" cy="324.8" r="3.5" fill="#000"/>
<circle cx="417.1" cy="333.1" r="3.5" fill="#000"/>
<circle cx="425.4" cy="333.1" r="3.5" fill="#000"/>
<circle cx="433.7" cy="333.1" r="3.5" fill="#000"/>
<circle cx="442.0" cy="333.1" r="3.5" fill="#000"/>
<circle cx="417.1" cy="341.4" r="3.5" fill="#000"/>
<circle cx="425.4" cy="341.4" r="3.5" fill="#000"/>
<circle cx="433.7" cy="341.4" r="3.5" fill="#000"/>
<circle cx="417.1" cy="349.7" r="3.5" fill="#000"/>
<circle cx="425.4" cy="349.7" r="3.5" fill="#000"/>
<circle cx="433.7" cy="349.7" r="3.5" fill="#000"/>
<circle cx="364.9" cy="418.1" r="3.5" fill="#000"/>
<circle cx="372.7" cy="418.1" r="3.5" fill="#000"/>
<circle cx="380.5" cy="418.1" r="3.5" fill="#000"/>
<circle cx="388.4" cy="418.1" r="3.5" fill="#000"/>
<circle cx="364.9" cy="426.1" r="3.5" fill="#000"/>
<circle cx="372.7" cy="426.1" r="3.5" fill="#000"/>
<circle cx="380.5" cy="426.1" r="3.5" fill="#000"/>
<circle cx="388.4" cy="426.1" r="3.5" fill="#000"/>
<circle cx="346.2" cy="424.6" r="3.5" fill="#000"/>
<circle cx="312.1" cy="413.4" r="3.5" fill="#000"/>
<circle cx="325.7" cy="427.6" r="3.5" fill="#000"/>
<circle cx="329.2" cy="362.6" r="3.5" fill="#000"/>
<circle cx="318.5" cy="381.7" r="3.5" fill="#000"/>
<circle cx="318.5" cy="388.2" r="3.5" fill="#000"/>
<circle cx="370.9" cy="357.8" r="3.5" fill="#000"/>
<circle cx="435.2" cy="529.8" r="3.5" fill="#000"/>
<circle cx="22.6" cy="21.3" r="3.5" fill="#000"/>
<circle cx="114.2" cy="45.9" r="3.5" fill="#000"/>
<circle cx="167.4" cy="44.7" r="3.5" fill="#000"/>
<circle cx="168.7" cy="58.2" r="3.5" fill="#000"/>
<circle cx="22.6" cy="85.6" r="3.5" fill="#000"/>
<circle cx="155.1" cy="101.9" r="3.5" fill="#000"/>
<circle cx="182.5" cy="101.9" r="3.5" fill="#000"/>
<circle cx="22.6" cy="140.0" r="3.5" fill="#000"/>
<circle cx="168.7" cy="140.0" r="3.5" fill="#000"/>
<circle cx="223.6" cy="21.6" r="3.5" fill="#000"/>
<circle cx="278.1" cy="21.6" r="3.5" fill="#000"/>
<circle cx="332.6" cy="21.6" r="3.5" fill="#000"/>
<circle cx="223.6" cy="58.3" r="3.5" fill="#000"/>
<circle cx="278.1" cy="58.3" r="3.5" fill="#000"/>
<circle cx="332.6" cy="58.3" r="3.5" fill="#000"/>
<circle cx="211.1" cy="101.9" r="3.5" fill="#000"/>
<circle cx="238.2" cy="101.9" r="3.5" fill="#000"/>
<circle cx="332.6" cy="101.9" r="3.5" fill="#000"/>
<circle cx="360.2" cy="101.9" r="3.5" fill="#000"/>
<circle cx="223.6" cy="140.0" r="3.5" fill="#000"/>
<circle cx="278.1" cy="140.0" r="3.5" fill="#000"/>
<circle cx="332.6" cy="140.0" r="3.5" fill="#000"/>
<circle cx="387.3" cy="21.6" r="3.5" fill="#000"/>
<circle cx="441.8" cy="21.6" r="3.5" fill="#000"/>
<circle cx="496.5" cy="21.6" r="3.5" fill="#000"/>
<circle cx="551.2" cy="21.6" r="3.5" fill="#000"/>
<circle cx="387.3" cy="58.3" r="3.5" fill="#000"/>
<circle cx="441.8" cy="58.3" r="3.5" fill="#000"/>
<circle cx="496.5" cy="58.3" r="3.5" fill="#000"/>
<circle cx="551.2" cy="58.3" r="3.5" fill="#000"/>
<circle cx="387.3" cy="101.9" r="3.5" fill="#000"/>
<circle cx="414.7" cy="101.9" r="3.5" fill="#000"/>
<circle cx="441.8" cy="101.9" r="3.5" fill="#000"/>
<circle cx="469.1" cy="101.9" r="3.5" fill="#000"/>
<circle cx="561.7" cy="101.9" r="3.5" fill="#000"/>
<circle cx="387.3" cy="140.0" r="3.5" fill="#000"/>
<circle cx="441.8" cy="140.0" r="3.5" fill="#000"/>
<circle cx="496.5" cy="140.0" r="3.5" fill="#000"/>
<circle cx="551.2" cy="140.0" r="3.5" fill="#000"/>
<circle cx="606.2" cy="21.6" r="3.5" fill="#000"/>
<circle cx="660.6" cy="21.6" r="3.5" fill="#000"/>
<circle cx="724.9" cy="21.6" r="3.5" fill="#000"/>
<circle cx="606.2" cy="58.2" r="3.5" fill="#000"/>
<circle cx="724.9" cy="85.6" r="3.5" fill="#000"/>
<circle cx="593.4" cy="101.9" r="3.5" fill="#000"/>
<circle cx="630.3" cy="101.9" r="3.5" fill="#000"/>
<circle cx="606.2" cy="140.0" r="3.5" fill="#000"/>
<circle cx="630.3" cy="138.6" r="3.5" fill="#000"/>
<circle cx="660.6" cy="140.0" r="3.5" fill="#000"/>
<circle cx="724.9" cy="140.0" r="3.5" fill="#000"/>
<circle cx="630.3" cy="167.4" r="3.5" fill="#000"/>
<circle cx="22.6" cy="195.3" r="3.5" fill="#000"/>
<circle cx="22.6" cy="249.3" r="3.5" fill="#000"/>
<circle cx="22.6" cy="304.3" r="3.5" fill="#000"/>
<circle cx="155.1" cy="197.8" r="3.5" fill="#000"/>
<circle cx="168.7" cy="195.3" r="3.5" fill="#000"/>
<circle cx="155.1" cy="222.2" r="3.5" fill="#000"/>
<circle cx="155.1" cy="248.3" r="3.5" fill="#000"/>
<circle cx="168.7" cy="249.3" r="3.5" fill="#000"/>
<circle cx="155.1" cy="274.1" r="3.5" fill="#000"/>
<circle cx="223.6" cy="195.3" r="3.5" fill="#000"/>
<circle cx="278.1" cy="195.3" r="3.5" fill="#000"/>
<circle cx="332.6" cy="195.3" r="3.5" fill="#000"/>
<circle cx="353.7" cy="268.9" r="3.5" fill="#000"/>
<circle cx="353.7" cy="275.7" r="3.5" fill="#000"/>
<circle cx="272.6" cy="293.6" r="3.5" fill="#000"/>
<circle cx="294.4" cy="293.6" r="3.5" fill="#000"/>
<circle cx="272.6" cy="320.8" r="3.5" fill="#000"/>
<circle cx="294.4" cy="320.8" r="3.5" fill="#000"/>
<circle cx="279.4" cy="328.9" r="3.5" fill="#000"/>
<circle cx="287.6" cy="328.9" r="3.5" fill="#000"/>
<circle cx="330.8" cy="313.3" r="3.5" fill="#000"/>
<circle cx="338.2" cy="313.3" r="3.5" fill="#000"/>
<circle cx="344.7" cy="313.3" r="3.5" fill="#000"/>
<circle cx="362.5" cy="313.3" r="3.5" fill="#000"/>
<circle cx="369.4" cy="313.3" r="3.5" fill="#000"/>
<circle cx="376.4" cy="313.3" r="3.5" fill="#000"/>
<circle cx="328.4" cy="331.6" r="3.5" fill="#000"/>
<circle cx="354.3" cy="331.6" r="3.5" fill="#000"/>
<circle cx="380.5" cy="331.6" r="3.5" fill="#000"/>
<circle cx="387.3" cy="195.3" r="3.5" fill="#000"/>
<circle cx="441.8" cy="195.3" r="3.5" fill="#000"/>
<circle cx="496.5" cy="195.3" r="3.5" fill="#000"/>
<circle cx="481.6" cy="233.5" r="3.5" fill="#000"/>
<circle cx="481.6" cy="259.4" r="3.5" fill="#000"/>
<circle cx="481.6" cy="284.6" r="3.5" fill="#000"/>
<circle cx="544.2" cy="249.3" r="3.5" fill="#000"/>
<circle cx="556.2" cy="307.0" r="3.5" fill="#000"/>
<circle cx="526.6" cy="181.0" r="3.5" fill="#000"/>
<circle cx="526.6" cy="197.8" r="3.5" fill="#000"/>
<circle cx="526.6" cy="214.2" r="3.5" fill="#000"/>
<circle cx="551.2" cy="181.0" r="3.5" fill="#000"/>
<circle cx="551.2" cy="197.8" r="3.5" fill="#000"/>
<circle cx="551.2" cy="214.2" r="3.5" fill="#000"/>
<circle cx="606.2" cy="195.3" r="3.5" fill="#000"/>
<circle cx="660.6" cy="195.3" r="3.5" fill="#000"/>
<circle cx="724.9" cy="195.3" r="3.5" fill="#000"/>
<circle cx="606.2" cy="249.3" r="3.5" fill="#000"/>
<circle cx="660.6" cy="249.3" r="3.5" fill="#000"/>
<circle cx="724.9" cy="249.3" r="3.5" fill="#000"/>
<circle cx="630.3" cy="263.1" r="3.5" fill="#000"/>
<circle cx="630.3" cy="288.2" r="3.5" fill="#000"/>
<circle cx="582.6" cy="307.0" r="3.5" fill="#000"/>
<circle cx="608.2" cy="307.0" r="3.5" fill="#000"/>
<circle cx="630.3" cy="307.0" r="3.5" fill="#000"/>
<circle cx="660.6" cy="304.0" r="3.5" fill="#000"/>
<circle cx="724.9" cy="304.0" r="3.5" fill="#000"/>
<circle cx="22.6" cy="359.3" r="3.5" fill="#000"/>
<circle cx="59.5" cy="359.3" r="3.5" fill="#000"/>
<circle cx="114.2" cy="359.3" r="3.5" fill="#000"/>
<circle cx="155.1" cy="355.0" r="3.5" fill="#000"/>
<circle cx="155.1" cy="383.6" r="3.5" fill="#000"/>
<circle cx="22.6" cy="413.8" r="3.5" fill="#000"/>
<circle cx="114.2" cy="413.8" r="3.5" fill="#000"/>
<circle cx="155.1" cy="410.8" r="3.5" fill="#000"/>
<circle cx="168.7" cy="413.8" r="3.5" fill="#000"/>
<circle cx="155.1" cy="437.9" r="3.5" fill="#000"/>
<circle cx="22.6" cy="468.5" r="3.5" fill="#000"/>
<circle cx="168.7" cy="468.5" r="3.5" fill="#000"/>
<circle cx="271.3" cy="359.3" r="3.5" fill="#000"/>
<circle cx="216.9" cy="413.8" r="3.5" fill="#000"/>
<circle cx="271.3" cy="413.8" r="3.5" fill="#000"/>
<circle cx="312.2" cy="413.8" r="3.5" fill="#000"/>
<circle cx="216.9" cy="468.5" r="3.5" fill="#000"/>
<circle cx="271.3" cy="468.5" r="3.5" fill="#000"/>
<circle cx="185.3" cy="371.6" r="3.5" fill="#000"/>
<circle cx="191.9" cy="371.6" r="3.5" fill="#000"/>
<circle cx="198.8" cy="371.6" r="3.5" fill="#000"/>
<circle cx="216.8" cy="371.6" r="3.5" fill="#000"/>
<circle cx="223.4" cy="371.6" r="3.5" fill="#000"/>
<circle cx="230.3" cy="371.6" r="3.5" fill="#000"/>
<circle cx="724.9" cy="359.3" r="3.5" fill="#000"/>
<circle cx="630.3" cy="386.4" r="3.5" fill="#000"/>
<circle cx="599.4" cy="413.8" r="3.5" fill="#000"/>
<circle cx="630.3" cy="413.8" r="3.5" fill="#000"/>
<circle cx="660.6" cy="413.8" r="3.5" fill="#000"/>
<circle cx="724.9" cy="413.8" r="3.5" fill="#000"/>
<circle cx="630.3" cy="440.9" r="3.5" fill="#000"/>
<circle cx="599.4" cy="468.5" r="3.5" fill="#000"/>
<circle cx="660.6" cy="468.5" r="3.5" fill="#000"/>
<circle cx="724.9" cy="468.5" r="3.5" fill="#000"/>
<circle cx="565.5" cy="395.7" r="3.5" fill="#000"/>
<circle cx="571.8" cy="395.7" r="3.5" fill="#000"/>
<circle cx="578.6" cy="395.7" r="3.5" fill="#000"/>
<circle cx="595.1" cy="395.7" r="3.5" fill="#000"/>
<circle cx="601.9" cy="395.7" r="3.5" fill="#000"/>
<circle cx="608.7" cy="395.7" r="3.5" fill="#000"/>
<circle cx="407.9" cy="413.8" r="3.5" fill="#000"/>
<circle cx="435.5" cy="413.8" r="3.5" fill="#000"/>
<circle cx="462.1" cy="413.8" r="3.5" fill="#000"/>
<circle cx="489.7" cy="413.8" r="3.5" fill="#000"/>
<circle cx="544.2" cy="413.8" r="3.5" fill="#000"/>
<circle cx="466.4" cy="461.5" r="3.5" fill="#000"/>
<circle cx="544.2" cy="468.5" r="3.5" fill="#000"/>
<circle cx="530.9" cy="376.9" r="3.5" fill="#000"/>
<circle cx="512.8" cy="388.9" r="3.5" fill="#000"/>
<circle cx="530.9" cy="388.9" r="3.5" fill="#000"/>
<circle cx="548.4" cy="388.9" r="3.5" fill="#000"/>
<circle cx="452.6" cy="395.7" r="3.5" fill="#000"/>
<circle cx="459.6" cy="395.7" r="3.5" fill="#000"/>
<circle cx="466.4" cy="395.7" r="3.5" fill="#000"/>
<circle cx="483.9" cy="395.7" r="3.5" fill="#000"/>
<circle cx="491.0" cy="395.7" r="3.5" fill="#000"/>
<circle cx="498.2" cy="395.7" r="3.5" fill="#000"/>
<circle cx="22.6" cy="523.3" r="3.5" fill="#000"/>
<circle cx="59.5" cy="523.3" r="3.5" fill="#000"/>
<circle cx="114.2" cy="523.3" r="3.5" fill="#000"/>
<circle cx="168.7" cy="523.3" r="3.5" fill="#000"/>
<circle cx="155.1" cy="535.3" r="3.5" fill="#000"/>
<circle cx="155.1" cy="559.7" r="3.5" fill="#000"/>
<circle cx="22.6" cy="577.7" r="3.5" fill="#000"/>
<circle cx="59.5" cy="577.7" r="3.5" fill="#000"/>
<circle cx="114.2" cy="577.7" r="3.5" fill="#000"/>
<circle cx="170.2" cy="577.7" r="3.5" fill="#000"/>
<circle cx="114.2" cy="632.5" r="3.5" fill="#000"/>
<circle cx="168.7" cy="632.5" r="3.5" fill="#000"/>
<circle cx="22.6" cy="669.1" r="3.5" fill="#000"/>
<circle cx="114.2" cy="669.1" r="3.5" fill="#000"/>
<circle cx="168.7" cy="669.1" r="3.5" fill="#000"/>
<circle cx="216.9" cy="523.3" r="3.5" fill="#000"/>
<circle cx="271.3" cy="523.3" r="3.5" fill="#000"/>
<circle cx="325.5" cy="530.3" r="3.5" fill="#000"/>
<circle cx="196.0" cy="578.0" r="3.5" fill="#000"/>
<circle cx="290.2" cy="578.0" r="3.5" fill="#000"/>
<circle cx="327.8" cy="578.0" r="3.5" fill="#000"/>
<circle cx="357.4" cy="578.0" r="3.5" fill="#000"/>
<circle cx="277.9" cy="632.5" r="3.5" fill="#000"/>
<circle cx="223.6" cy="669.1" r="3.5" fill="#000"/>
<circle cx="278.1" cy="669.1" r="3.5" fill="#000"/>
<circle cx="332.6" cy="669.1" r="3.5" fill="#000"/>
<circle cx="381.5" cy="530.3" r="3.5" fill="#000"/>
<circle cx="435.5" cy="530.3" r="3.5" fill="#000"/>
<circle cx="544.2" cy="523.3" r="3.5" fill="#000"/>
<circle cx="388.6" cy="578.0" r="3.5" fill="#000"/>
<circle cx="414.4" cy="578.0" r="3.5" fill="#000"/>
<circle cx="441.8" cy="578.0" r="3.5" fill="#000"/>
<circle cx="471.9" cy="578.0" r="3.5" fill="#000"/>
<circle cx="499.0" cy="578.0" r="3.5" fill="#000"/>
<circle cx="387.3" cy="632.5" r="3.5" fill="#000"/>
<circle cx="496.5" cy="632.5" r="3.5" fill="#000"/>
<circle cx="551.2" cy="632.5" r="3.5" fill="#000"/>
<circle cx="387.3" cy="669.1" r="3.5" fill="#000"/>
<circle cx="441.8" cy="669.1" r="3.5" fill="#000"/>
<circle cx="496.5" cy="669.1" r="3.5" fill="#000"/>
<circle cx="551.2" cy="669.1" r="3.5" fill="#000"/>
<circle cx="599.4" cy="523.3" r="3.5" fill="#000"/>
<circle cx="660.6" cy="523.3" r="3.5" fill="#000"/>
<circle cx="724.9" cy="523.3" r="3.5" fill="#000"/>
<circle cx="630.3" cy="537.1" r="3.5" fill="#000"/>
<circle cx="630.3" cy="559.7" r="3.5" fill="#000"/>
<circle cx="599.4" cy="578.0" r="3.5" fill="#000"/>
<circle cx="619.5" cy="578.0" r="3.5" fill="#000"/>
<circle cx="660.6" cy="578.0" r="3.5" fill="#000"/>
<circle cx="724.9" cy="578.0" r="3.5" fill="#000"/>
<circle cx="606.2" cy="632.5" r="3.5" fill="#000"/>
<circle cx="606.2" cy="669.1" r="3.5" fill="#000"/>
<circle cx="660.6" cy="669.1" r="3.5" fill="#000"/>
<circle cx="724.9" cy="669.1" r="3.5" fill="#000"/>
<circle cx="358.6" cy="358.3" r="1.9" fill="#000"/>
<circle cx="393.3" cy="358.3" r="1.9" fill="#000"/>
<circle cx="398.1" cy="358.3" r="1.9" fill="#000"/>
<circle cx="345.3" cy="388.1" r="1.9" fill="#000"/>
<circle cx="373.0" cy="390.3" r="1.9" fill="#000"/>
<circle cx="406.6" cy="370.6" r="1.9" fill="#000"/>
<circle cx="439.0" cy="361.3" r="1.9" fill="#000"/>
<circle cx="439.0" cy="365.6" r="1.9" fill="#000"/>
<circle cx="456.9" cy="367.1" r="1.9" fill="#000"/>
<circle cx="321.4" cy="443.8" r="1.9" fill="#000"/>
<circle cx="327.9" cy="450.4" r="1.9" fill="#000"/>
<circle cx="373.0" cy="452.3" r="1.9" fill="#000"/>
<circle cx="407.8" cy="442.3" r="1.9" fill="#000"/>
<circle cx="321.4" cy="487.4" r="1.9" fill="#000"/>
<circle cx="384.7" cy="492.9" r="1.9" fill="#000"/>
<circle cx="396.7" cy="492.9" r="1.9" fill="#000"/>
<circle cx="409.3" cy="492.9" r="1.9" fill="#000"/>
<rect x="5.6" y="4.1" width="737" height="683.1" fill="none" stroke="#111" stroke-width="1.7"/>
</g>
</svg>
</body></html>
